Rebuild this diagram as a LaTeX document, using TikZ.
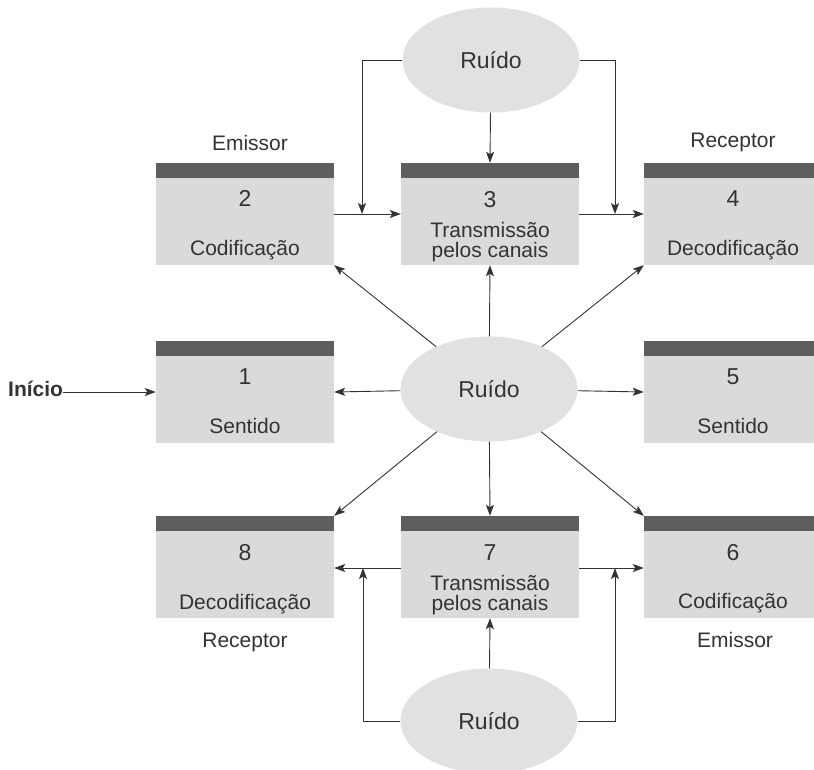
\documentclass[tikz,border=0pt]{standalone}
\usepackage{fontspec}
\setmainfont{Liberation Sans}
\usetikzlibrary{arrows.meta,shapes.geometric}
\definecolor{boxfill}{HTML}{DADADA}
\definecolor{barfill}{HTML}{5E5E5E}
\definecolor{noisefill}{HTML}{E1E1E1}
\definecolor{ink}{HTML}{333333}
\tikzset{
  stage/.style={rectangle,fill=boxfill,minimum width=178pt,minimum height=102pt,inner sep=0pt,
    path picture={\fill[barfill] (path picture bounding box.north west) rectangle
      ([yshift=-15pt]path picture bounding box.north east);}},
  noise/.style={ellipse,fill=noisefill,minimum width=177pt,minimum height=105pt,inner sep=0pt,
    text=ink,font=\fontsize{23}{27}\selectfont},
  numtxt/.style={anchor=base,inner sep=0pt,text=ink,font=\fontsize{23}{27}\selectfont},
  lbltxt/.style={anchor=base,inner sep=0pt,text=ink,font=\fontsize{21}{24}\selectfont},
  flow/.style={draw=ink,line width=0.9pt,-{Stealth[length=11pt,width=8pt,inset=2.5pt]}},
  feed/.style={draw=ink,line width=0.9pt}
}
\begin{document}
\begin{tikzpicture}[x=1pt,y=-1pt]
  \useasboundingbox (0,0) rectangle (814,769);
  % stages
  \node[stage] (encode2) at (245,214) {};
  \node[stage] (channel3) at (490,214) {};
  \node[stage] (decode4) at (733,214) {};
  \node[stage] (sense1) at (245,392) {};
  \node[stage] (sense5) at (733,392) {};
  \node[stage] (decode8) at (245,567) {};
  \node[stage] (channel7) at (490,567) {};
  \node[stage] (encode6) at (733,567) {};
  % noise sources
  \node[noise] (noiseTop) at (491,60) {Ruído};
  \node[noise] (noiseMid) at (489,389) {Ruído};
  \node[noise] (noiseBot) at (489,721) {Ruído};
  % texts inside the stages
  \node[numtxt] (t2) at ([yshift=-44pt]encode2.north) {2};
  \node[lbltxt] (s2) at ([yshift=-93pt]encode2.north) {Codificação};
  \node[numtxt] (t3) at ([yshift=-45pt]channel3.north) {3};
  \node[lbltxt] (s3a) at ([yshift=-75pt]channel3.north) {Transmissão};
  \node[lbltxt] (s3b) at ([yshift=-95pt]channel3.north) {pelos canais};
  \node[numtxt] (t4) at ([yshift=-44pt]decode4.north) {4};
  \node[lbltxt] (s4) at ([yshift=-93pt]decode4.north) {Decodificação};
  \node[numtxt] (t1) at ([yshift=-44pt]sense1.north) {1};
  \node[lbltxt] (s1) at ([yshift=-93pt]sense1.north) {Sentido};
  \node[numtxt] (t5) at ([yshift=-44pt]sense5.north) {5};
  \node[lbltxt] (s5) at ([yshift=-93pt]sense5.north) {Sentido};
  \node[numtxt] (t8) at ([yshift=-45pt]decode8.north) {8};
  \node[lbltxt] (s8) at ([yshift=-94pt]decode8.north) {Decodificação};
  \node[numtxt] (t7) at ([yshift=-45pt]channel7.north) {7};
  \node[lbltxt] (s7a) at ([yshift=-75pt]channel7.north) {Transmissão};
  \node[lbltxt] (s7b) at ([yshift=-95pt]channel7.north) {pelos canais};
  \node[numtxt] (t6) at ([yshift=-45pt]encode6.north) {6};
  \node[lbltxt] (s6) at ([yshift=-93pt]encode6.north) {Codificação};
  % role labels
  \node[lbltxt] (emitTop) at (250,150) {Emissor};
  \node[lbltxt] (recvTop) at (733,147) {Receptor};
  \node[lbltxt] (recvBot) at (245,647) {Receptor};
  \node[lbltxt] (emitBot) at (735,647) {Emissor};
  \node[anchor=base west,inner sep=0pt,text=ink,font=\fontsize{21}{24}\selectfont\bfseries] (start) at (8,396) {Início};
  % junctions on the main lines
  \coordinate (j23) at (362,214);
  \coordinate (j34) at (615,214);
  \coordinate (j78) at (363,568);
  \coordinate (j76) at (615,568);
  % main chain
  \draw[flow] (start.east |- sense1.west) -- (sense1.west);
  \draw[flow] (encode2.east) -- (channel3.west);
  \draw[flow] (channel3.east) -- (decode4.west);
  \draw[flow] (channel7.west |- j78) -- (decode8.east |- j78);
  \draw[flow] (channel7.east |- j76) -- (encode6.west |- j76);
  % top noise
  \draw[flow] (noiseTop.west) -| (j23);
  \draw[flow] (noiseTop.east) -| (j34);
  \draw[flow] (noiseTop) -- (channel3.north);
  % central noise
  \draw[flow] (noiseMid) -- (encode2.south east);
  \draw[flow] (noiseMid) -- (channel3.south);
  \draw[flow] (noiseMid) -- (decode4.south west);
  \draw[flow] (noiseMid) -- (sense1.east);
  \draw[flow] (noiseMid) -- (sense5.west);
  \draw[flow] (noiseMid) -- (decode8.north east);
  \draw[flow] (noiseMid) -- (channel7.north);
  \draw[flow] (noiseMid) -- (encode6.north west);
  % bottom noise
  \draw[flow] (noiseBot.west) -| (j78);
  \draw[flow] (noiseBot.east) -| (j76);
  \draw[flow] (noiseBot) -- (channel7.south);
\end{tikzpicture}
\end{document}
